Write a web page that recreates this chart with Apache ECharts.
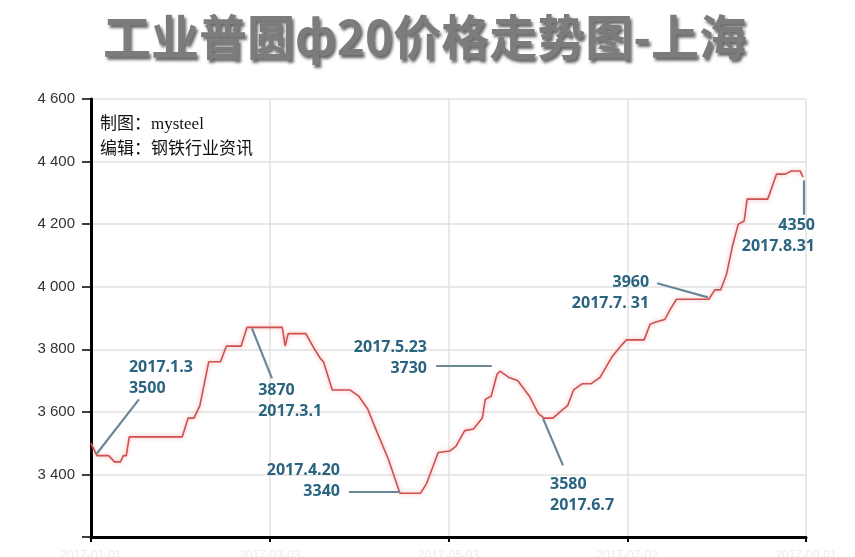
<!DOCTYPE html>
<html><head><meta charset="utf-8">
<script src="https://cdn.jsdelivr.net/npm/echarts@6/dist/echarts.min.js"></script>
<style>html,body{margin:0;padding:0;background:#fff}#c{width:855px;height:557px}</style>
</head><body><div id="c"></div>
<script>
const titleText = '工业普圆ф20价格走势图-上海';
const creditLines = ['制图：mysteel', '编辑：钢铁行业资讯'];
const yTicks = [3200, 3400, 3600, 3800, 4000, 4200, 4400, 4600];
const dates = ['2017-01-01','2017-01-03','2017-01-07','2017-01-09','2017-01-11','2017-01-12','2017-01-13','2017-01-14',
 '2017-02-01','2017-02-03','2017-02-05','2017-02-07','2017-02-10','2017-02-14','2017-02-16','2017-02-21','2017-02-23',
 '2017-03-07','2017-03-08','2017-03-09','2017-03-15','2017-03-18','2017-03-20','2017-03-21','2017-03-24','2017-03-30',
 '2017-04-02','2017-04-05','2017-04-08','2017-04-12','2017-04-16','2017-04-23','2017-04-25','2017-04-27','2017-04-29',
 '2017-05-03','2017-05-05','2017-05-08','2017-05-11','2017-05-14','2017-05-15','2017-05-17','2017-05-19','2017-05-20',
 '2017-05-23','2017-05-26','2017-05-30','2017-06-02','2017-06-04','2017-06-07','2017-06-10','2017-06-12','2017-06-14',
 '2017-06-17','2017-06-20','2017-06-23','2017-06-27','2017-06-30','2017-07-02','2017-07-08','2017-07-10','2017-07-12',
 '2017-07-15','2017-07-17','2017-07-19','2017-07-30','2017-08-01','2017-08-03','2017-08-05','2017-08-07','2017-08-09',
 '2017-08-11','2017-08-12','2017-08-19','2017-08-22','2017-08-25','2017-08-27','2017-08-30','2017-08-31'];
const prices = [3500,3460,3460,3440,3440,3460,3460,3520,
 3520,3580,3580,3620,3760,3760,3810,3810,3870,
 3870,3810,3850,3850,3800,3770,3760,3670,3670,
 3650,3610,3540,3450,3340,3340,3370,3420,3470,
 3475,3490,3540,3545,3580,3640,3650,3720,3730,
 3710,3700,3650,3595,3580,3580,3605,3620,3670,
 3690,3690,3710,3775,3810,3830,3830,3880,3887,
 3895,3930,3960,3960,3990,3990,4040,4130,4200,
 4210,4280,4280,4360,4360,4370,4370,4350];
const annoTexts = ['2017.1.3\n3500','3870\n2017.3.1','2017.4.20\n3340','2017.5.23\n3730','3580\n2017.6.7','3960\n2017.7. 31','4350\n2017.8.31'];

const START = Date.UTC(2017,0,1);
const dayOf = s => { const p = s.split('-').map(Number); return (Date.UTC(p[0],p[1]-1,p[2]) - START)/864e5; };
const fmtDate = d => { const t = new Date(START + Math.round(d)*864e5); const m = String(t.getUTCMonth()+1).padStart(2,'0'); const dd = String(t.getUTCDate()).padStart(2,'0'); return t.getUTCFullYear()+'-'+m+'-'+dd; };
const seriesData = dates.map((d,i)=>[dayOf(d), prices[i]]);

const annoColor = '#2b6480';
const leaderColor = '#6a8798';
// label anchors [day, value, align, offsetX]
const annoPos = [
  [12.9, 3707, 'left', 0],
  [56.8, 3634, 'left', 0],
  [84.6, 3378, 'right', 0],
  [114.2, 3771, 'right', 0],
  [156.0, 3336, 'left', 0],
  [189.7, 3979, 'right', 0],
  [242.3, 4162, 'right', 11]
];
const leaders = [
  [[2.0,3467],[16.3,3640]],
  [[54.7,3867],[61.5,3707]],
  [[87.7,3346],[105,3346]],
  [[117.3,3746],[136.2,3746]],
  [[153.6,3579],[160.4,3429]],
  [[192.4,4011],[209.7,3966]],
  [[242.3,4340],[242.3,4230]]
];

const chart = echarts.init(document.getElementById('c'));
chart.setOption({
  animation:false,
  title:{text:titleText,left:420,top:8,textAlign:'center',
    textStyle:{fontFamily:'Noto Sans CJK SC',fontSize:48,fontWeight:'bold',color:'#7c7c7c',
      textShadowColor:'rgba(0,0,0,0.6)',textShadowBlur:3,textShadowOffsetX:2,textShadowOffsetY:3}},
  graphic:[{type:'text',left:100,top:112,style:{text:creditLines.join('\n'),font:'17px "Liberation Serif","Noto Sans CJK SC"',fill:'#111',lineHeight:25}}],
  grid:{left:91,right:49,top:99,bottom:20,outerBoundsMode:'none',containLabel:false},
  xAxis:{type:'value',min:0,max:243,interval:60.75,
    axisLine:{show:true,lineStyle:{color:'#000',width:3}},
    axisTick:{show:true,length:5,lineStyle:{color:'#000',width:2}},
    axisLabel:{show:true,color:'#ececec',fontSize:12,margin:13,formatter:v=>fmtDate(v)},
    splitLine:{show:true,lineStyle:{color:'#e2e2e2',width:1.5}}},
  yAxis:{type:'value',min:yTicks[0],max:yTicks[yTicks.length-1],interval:200,
    axisLine:{show:true,lineStyle:{color:'#000',width:3}},
    axisTick:{show:true,length:9,lineStyle:{color:'#000',width:1.5}},
    axisLabel:{color:'#333',fontSize:15,fontFamily:'Liberation Sans',margin:16,
      formatter:v=> v===yTicks[0] ? '' : String(v).replace(/\B(?=(\d{3})+(?!\d))/g,' ')},
    splitLine:{show:true,lineStyle:{color:'#e2e2e2',width:1.5}}},
  series:[{type:'line',data:seriesData,showSymbol:false,symbol:'none',silent:true,
    lineStyle:{color:'#cf5050',width:1.6,shadowColor:'rgba(240,130,130,0.7)',shadowBlur:4},
    markLine:{silent:true,symbol:['none','none'],label:{show:false},
      lineStyle:{color:leaderColor,width:2.2,type:'solid'},
      data:leaders.map(l=>[{coord:l[0]},{coord:l[1]}])},
    markPoint:{silent:true,symbol:'circle',symbolSize:0,
      data:annoTexts.map((t,i)=>({coord:[annoPos[i][0],annoPos[i][1]],value:t,
        label:{show:true,position:'inside',formatter:t,align:annoPos[i][2],verticalAlign:'middle',offset:[annoPos[i][3],0],
          color:annoColor,fontSize:16,fontWeight:'bold',fontFamily:'Open Sans',lineHeight:21}}))}
  }]
});
</script></body></html>
